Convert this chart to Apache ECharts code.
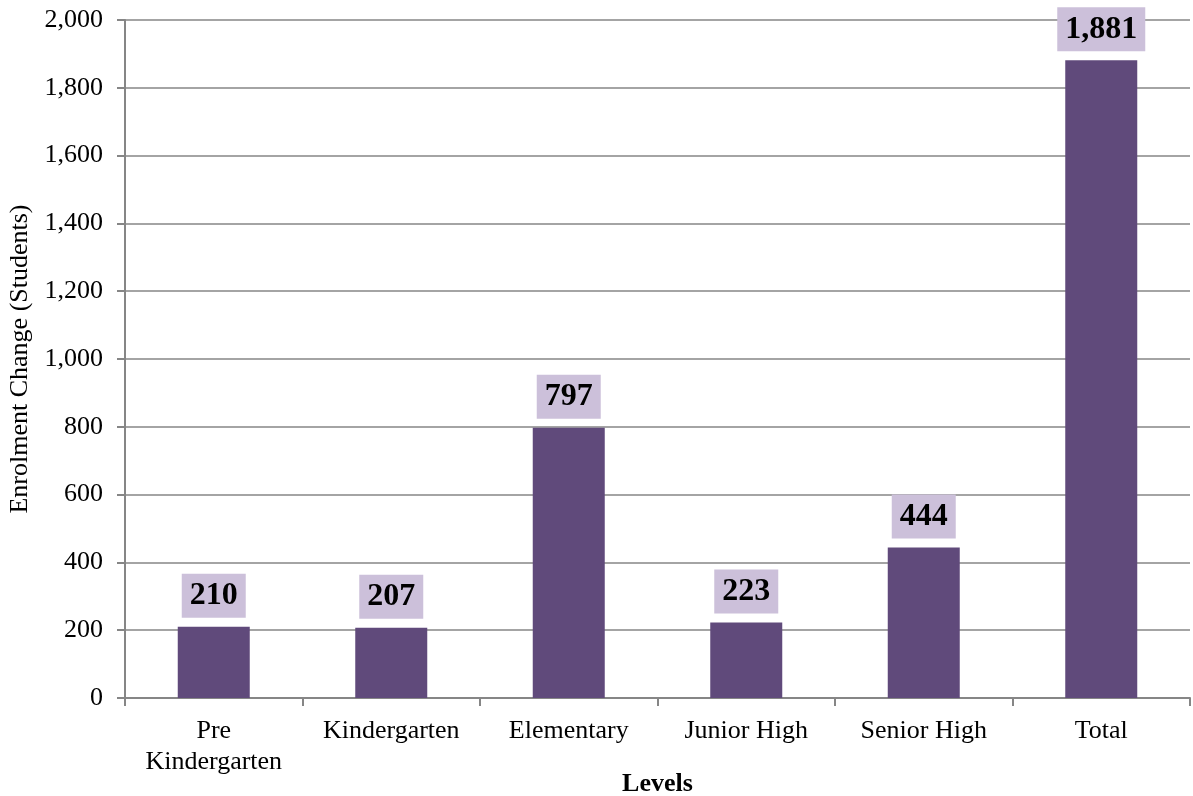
<!DOCTYPE html>
<html><head><meta charset="utf-8">
<script src="https://cdn.jsdelivr.net/npm/echarts@6/dist/echarts.min.js"></script>
<style>html,body{margin:0;padding:0;background:#fff;overflow:hidden}#c{width:1193px;height:796px}</style>
</head><body><div id="c"></div>
<script>
const categories = ['Pre\nKindergarten', 'Kindergarten', 'Elementary', 'Junior High', 'Senior High', 'Total'];
const values = [210, 207, 797, 223, 444, 1881];
const yTicks = { min: 0, max: 2000, interval: 200 };
const chart = echarts.init(document.getElementById('c'));
const font = '"Liberation Serif", "Times New Roman", serif';
chart.setOption({
  animation: false,
  textStyle: { fontFamily: font },
  grid: { left: 125, right: 3, top: 20, bottom: 98, containLabel: false, outerBoundsMode: 'none' },
  xAxis: {
    type: 'category', data: categories,
    name: 'Levels', nameLocation: 'middle', nameGap: 73, nameMoveOverlap: false,
    nameTextStyle: { fontFamily: font, fontSize: 26, fontWeight: 'bold', color: '#000' },
    axisLine: { lineStyle: { color: '#868686', width: 2 } },
    axisTick: { show: true, length: 8, lineStyle: { color: '#868686', width: 2 } },
    axisLabel: { fontFamily: font, fontSize: 26, color: '#000', margin: 18, lineHeight: 31, interval: 0 }
  },
  yAxis: {
    type: 'value', min: yTicks.min, max: yTicks.max, interval: yTicks.interval,
    name: 'Enrolment Change (Students)', nameLocation: 'middle', nameGap: 92, nameMoveOverlap: false,
    nameTextStyle: { fontFamily: font, fontSize: 26, color: '#000' },
    axisLine: { show: true, lineStyle: { color: '#868686', width: 2 } },
    axisTick: { show: true, length: 8, lineStyle: { color: '#868686', width: 2 } },
    axisLabel: { fontFamily: font, fontSize: 26, color: '#000', margin: 22,
      formatter: v => v.toLocaleString('en-US') },
    splitLine: { lineStyle: { color: '#868686', width: 1.5 } }
  },
  series: [{
    type: 'bar', data: values, barWidth: 72,
    itemStyle: { color: '#604a7b' },
    label: {
      show: true, position: 'top', distance: 9,
      fontFamily: font, fontSize: 32, fontWeight: 'bold', color: '#000',
      backgroundColor: '#ccc0da', padding: [6, 8, 6, 8],
      formatter: p => p.value.toLocaleString('en-US')
    }
  }]
});
</script></body></html>
